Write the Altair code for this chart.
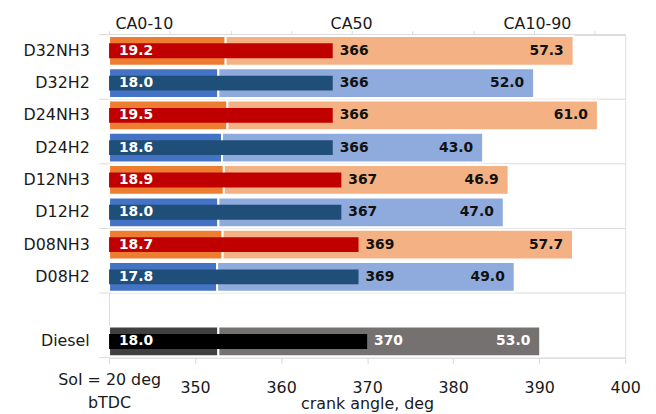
import altair as alt
import pandas as pd

# ---- data ----
categories = ["D32NH3", "D32H2", "D24NH3", "D24H2", "D12NH3", "D12H2",
              "D08NH3", "D08H2", "Diesel"]
fuel = ["NH3", "H2", "NH3", "H2", "NH3", "H2", "NH3", "H2", "Diesel"]
ca0_10 = [19.2, 18.0, 19.5, 18.6, 18.9, 18.0, 18.7, 17.8, 18.0]
ca50 = [366, 366, 366, 366, 367, 367, 369, 369, 370]
ca10_90 = [57.3, 52.0, 61.0, 43.0, 46.9, 47.0, 57.7, 49.0, 53.0]
row_order = ["D32NH3", "D32H2", "D24NH3", "D24H2", "D12NH3", "D12H2",
             "D08NH3", "D08H2", "gap", "Diesel"]
x_ticks = [340, 350, 360, 370, 380, 390, 400]
sec_ticks = [0, 10, 20, 30, 40, 50, 60, 70, 80]
headers = ["CA0-10", "CA50", "CA10-90"]
header_x = [344.1, 368.2, 389.8]
separators = ["D32NH3", "D24NH3", "D12NH3", "D08NH3", "gap"]
soi_start = 340

seg_keys = ["NH3-a", "NH3-b", "H2-a", "H2-b", "Diesel-a", "Diesel-b"]
seg_colors = ["#ED7D31", "#F4B183", "#4472C4", "#8FAADC", "#404040", "#767171"]
dark_keys = ["NH3", "H2", "Diesel"]
dark_colors = ["#C00000", "#1F4E79", "#000000"]

W, H = 521, 326
FONT = "DejaVu Sans"
TXT = "#1a1a1a"

df = pd.DataFrame({"cat": categories, "fuel": fuel, "ca010": ca0_10,
                   "ca50": ca50, "ca1090": ca10_90})
df["lab010"] = [f"{v:.1f}" for v in ca0_10]
df["lab50"] = [str(v) for v in ca50]
df["lab1090"] = [f"{v:.1f}" for v in ca10_90]
df["end"] = df["ca010"] + df["ca1090"]
df["base"] = soi_start

rows = []
for c, f, a, b in zip(categories, fuel, ca0_10, ca10_90):
    rows.append({"cat": c, "key": f + "-a", "start": 0.0, "stop": a})
    rows.append({"cat": c, "key": f + "-b", "start": a, "stop": a + b})
seg = pd.DataFrame(rows)

hdr = pd.DataFrame({"h": headers, "hx": header_x})
sep = pd.DataFrame({"cat": separators})

yscale = alt.Scale(domain=row_order, paddingInner=0, paddingOuter=0)
x_prim = alt.Scale(domain=[340, 400], nice=False, zero=False)
x_sec = alt.Scale(domain=[0, 85], nice=False, zero=False)
GRID = "#d9d9d9"

y_axis = alt.Axis(title=None, ticks=False, domain=False, labelPadding=20,
                  labelFontSize=16, labelColor=TXT, labelFont=FONT,
                  zindex=1,
                  labelExpr="datum.value == 'gap' ? '' : datum.value")


def Y(**kw):
    return alt.Y("cat:N", scale=yscale, axis=y_axis, **kw)


rules = alt.Chart(sep).mark_rule(color=GRID, strokeWidth=1).encode(
    y=Y(bandPosition=0), x=alt.value(-10), x2=alt.value(W))
rule_bottom = alt.Chart(pd.DataFrame({"cat": ["Diesel"]})).mark_rule(
    color=GRID, strokeWidth=1).encode(
    y=Y(bandPosition=1), x=alt.value(-10), x2=alt.value(0))

sec_bars = alt.Chart(seg).mark_bar(height=30, stroke="white", strokeWidth=2).encode(
    x=alt.X("start:Q", scale=x_sec,
            axis=alt.Axis(orient="top", values=sec_ticks, labels=False, grid=False,
                          domainColor=GRID, tickColor=GRID, tickSize=4, title=None)),
    x2="stop:Q",
    y=Y(),
    color=alt.Color("key:N", scale=alt.Scale(domain=seg_keys, range=seg_colors),
                    legend=None))

dark_bars = alt.Chart(df).mark_bar(height=15).encode(
    x=alt.X("base:Q", scale=x_prim,
            axis=alt.Axis(orient="bottom", values=x_ticks, grid=False,
                          domainColor=GRID, tickColor=GRID, tickSize=6,
                          labelFontSize=16, labelFont=FONT, labelColor=TXT,
                          labelBaseline="middle", labelLineHeight=23,
                          labelPadding={"condition": {"test": "datum.value == 340",
                                                      "value": 16},
                                        "value": 24},
                          labelOverlap=False, labelBound=False, labelFlush=False,
                          labelExpr="datum.value == 340 ? ['SoI = 20 deg', 'bTDC'] : datum.label",
                          title="crank angle, deg", titleFontSize=16, titleFont=FONT,
                          titleFontWeight="normal", titleColor=TXT,
                          titleBaseline="middle", titleY=46)),
    x2="ca50:Q",
    y=Y(),
    color=alt.Color("fuel:N", scale=alt.Scale(domain=dark_keys, range=dark_colors),
                    legend=None))

lab50 = alt.Chart(df).mark_text(align="left", baseline="middle", dx=7,
                                fontSize=14, fontWeight="bold", font=FONT).encode(
    x=alt.X("ca50:Q", scale=x_prim, axis=None),
    y=Y(),
    text="lab50:N",
    color=alt.condition(alt.datum.fuel == "Diesel", alt.value("white"),
                        alt.value("#111111")))

lab010 = alt.Chart(df).mark_text(align="left", baseline="middle", dx=0,
                                 fontSize=14, fontWeight="bold", font=FONT,
                                 color="white").encode(
    x=alt.value(10),
    y=Y(),
    text="lab010:N")

lab1090 = alt.Chart(df).mark_text(align="right", baseline="middle", dx=-10,
                                  fontSize=14, fontWeight="bold", font=FONT).encode(
    x=alt.X("end:Q", scale=x_sec, axis=None),
    y=Y(),
    text="lab1090:N",
    color=alt.condition(alt.datum.fuel == "Diesel", alt.value("white"),
                        alt.value("#111111")))

head = alt.Chart(hdr).mark_text(fontSize=16, font=FONT, baseline="middle",
                                color=TXT).encode(
    x=alt.X("hx:Q", scale=x_prim, axis=None),
    y=alt.value(-11),
    text="h:N")

chart = alt.layer(rules, rule_bottom, sec_bars, dark_bars, lab50, lab1090, lab010, head
).resolve_scale(x="independent", color="independent").properties(
    width=W, height=H,
    autosize=alt.AutoSizeParams(type="none"),
    padding={"left": 102, "top": 25, "right": 23, "bottom": 55},
).configure_view(stroke=GRID).configure(background="white", font=FONT)

chart.save("out.html", embed_options={"renderer": "svg", "actions": False})
